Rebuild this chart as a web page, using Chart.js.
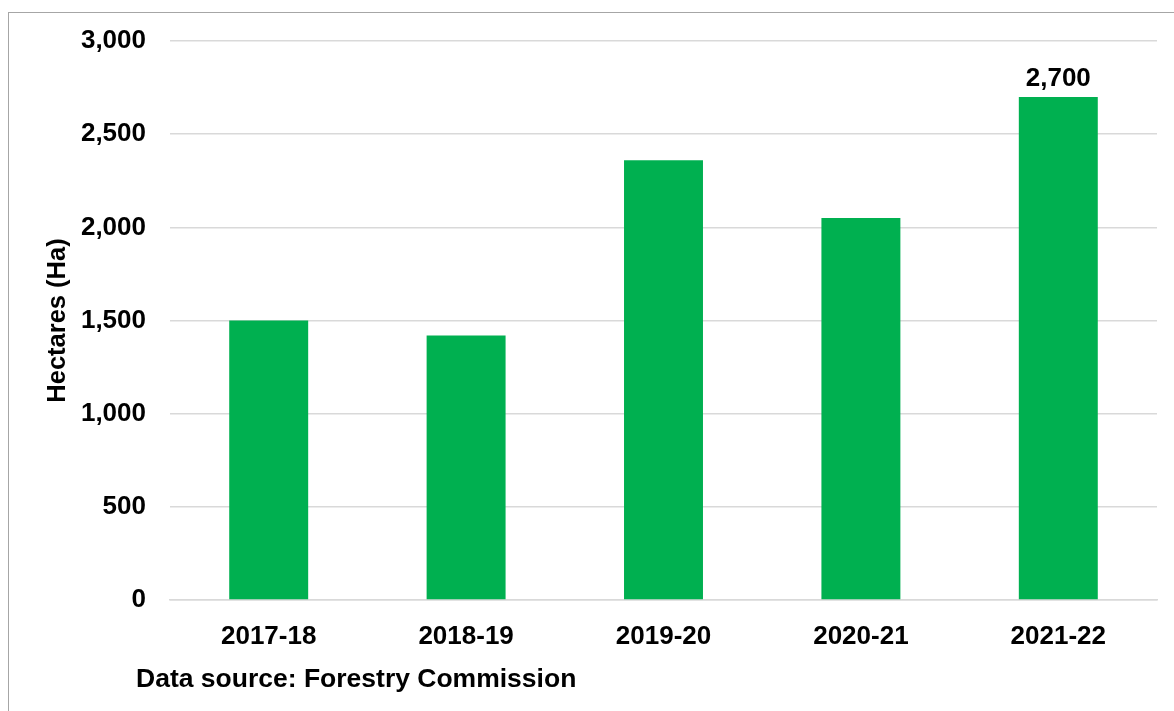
<!DOCTYPE html>
<html>
<head>
<meta charset="utf-8">
<title>Hectares</title>
<script src="https://cdn.jsdelivr.net/npm/chart.js@4/dist/chart.umd.min.js"></script>
<style>
    body { margin: 0; background: #fff; overflow: hidden; }
    .frame { position: absolute; left: 8px; top: 12px; width: 1300px; height: 800px; border-left: 1px solid #a6a6a6; border-top: 1px solid #a6a6a6; }
    #hectares-chart { position: absolute; left: 0; top: 0; }
</style>
</head>
<body>
<div class="frame"></div>
<canvas id="hectares-chart" width="1174" height="711"></canvas>
<script>
    "use strict";

    var years = ["2017-18", "2018-19", "2019-20", "2020-21", "2021-22"];
    var hectares = [1500, 1420, 2360, 2050, 2700];
    var yTicks = [0, 500, 1000, 1500, 2000, 2500, 3000];
    var labelledYear = "2021-22";
    var sourceNote = "Data source: Forestry Commission";

    var boldFont = { family: "'Liberation Sans', Arial, sans-serif", size: 26, weight: "bold" };

    // Value label over the last bar + source line under the axis
    var extras = {
        id: "extras",
        afterDatasetsDraw: function (chart) {
            var ctx = chart.ctx;
            var meta = chart.getDatasetMeta(0);
            ctx.save();
            ctx.fillStyle = "#000";
            ctx.font = "bold 26px 'Liberation Sans', Arial, sans-serif";
            ctx.textAlign = "center";
            ctx.textBaseline = "alphabetic";
            var i = years.indexOf(labelledYear);
            var bar = meta.data[i];
            ctx.fillText(hectares[i].toLocaleString("en-GB"), bar.x, bar.y - 11);

            ctx.font = "bold 26.5px 'Liberation Sans', Arial, sans-serif";
            ctx.textAlign = "left";
            ctx.fillText(sourceNote, 136, 687);
            ctx.restore();
        }
    };

    // Planting chart
    var ctx1 = document.getElementById("hectares-chart").getContext("2d");
    var myChart1 = new Chart(ctx1, {
        type: "bar",
        data: {
            labels: years,
            datasets: [{
                data: hectares,
                backgroundColor: "#00B050",
                categoryPercentage: 1,
                barPercentage: 0.4
            }]
        },
        options: {
            responsive: false,
            animation: false,
            layout: { padding: { left: 0, right: 17, top: 41, bottom: 0 } },
            plugins: {
                legend: { display: false },
                tooltip: { enabled: false }
            },
            scales: {
                x: {
                    grid: { display: false },
                    border: { display: true, color: "#d9d9d9", width: 1.5 },
                    ticks: { color: "#000", font: boldFont, padding: 13, maxRotation: 0 },
                    afterFit: function (scale) { scale.height = 111; }
                },
                y: {
                    min: 0,
                    max: 3000,
                    afterBuildTicks: function (scale) {
                        scale.ticks = yTicks.map(function (v) { return { value: v }; });
                    },
                    grid: { color: "#d9d9d9", lineWidth: 1.5, drawTicks: false },
                    border: { display: false },
                    ticks: {
                        color: "#000",
                        font: boldFont,
                        padding: 24,
                        callback: function (v) { return v.toLocaleString("en-GB"); }
                    },
                    title: {
                        display: true,
                        text: "Hectares (Ha)",
                        color: "#000",
                        font: { family: boldFont.family, size: 25.5, weight: "bold" },
                        padding: { top: 43, bottom: 0 }
                    },
                    afterFit: function (scale) { scale.width = 170; }
                }
            }
        },
        plugins: [extras]
    });
</script>
</body>
</html>
